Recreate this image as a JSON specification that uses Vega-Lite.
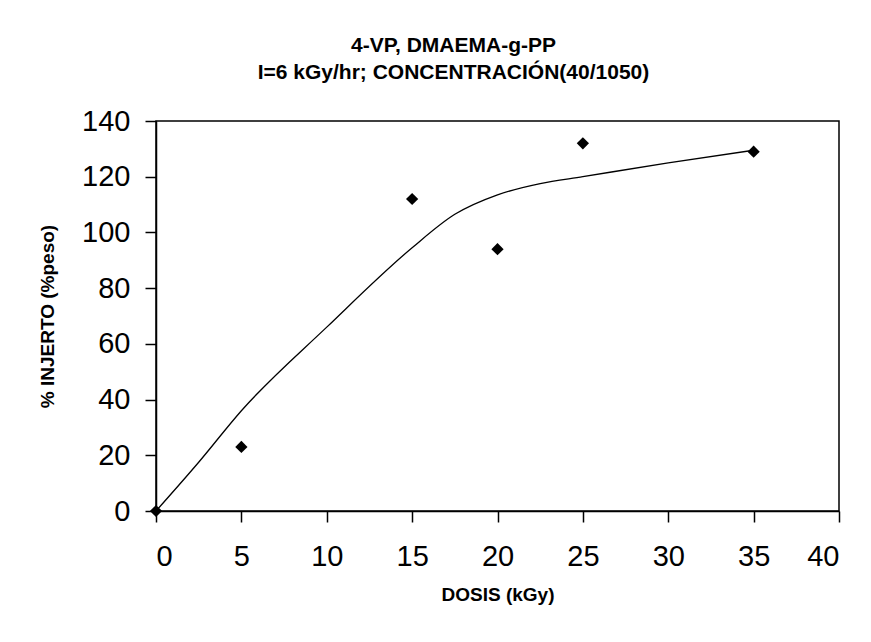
{
  "$schema": "https://vega.github.io/schema/vega-lite/v6.json",
  "width": 683,
  "height": 390,
  "autosize": "none",
  "padding": {"left": 156, "top": 121, "right": 32, "bottom": 131},
  "background": "white",
  "title": {
    "text": ["4-VP, DMAEMA-g-PP", "I=6 kGy/hr; CONCENTRACIÓN(40/1050)"],
    "font": "Liberation Sans",
    "fontSize": 21,
    "fontWeight": "bold",
    "lineHeight": 27,
    "color": "black",
    "anchor": "middle",
    "dx": -44,
    "offset": 24
  },
  "datasets": {
    "points": [
      {"dosis": 0, "injerto": 0},
      {"dosis": 5, "injerto": 23},
      {"dosis": 15, "injerto": 112},
      {"dosis": 20, "injerto": 94},
      {"dosis": 25, "injerto": 132},
      {"dosis": 35, "injerto": 129}
    ],
    "curve": [
      {"dosis": 0, "injerto": 0},
      {"dosis": 2.5, "injerto": 17.5},
      {"dosis": 5, "injerto": 36},
      {"dosis": 10, "injerto": 66},
      {"dosis": 15, "injerto": 94.5},
      {"dosis": 17.5, "injerto": 106.5},
      {"dosis": 20, "injerto": 113.5},
      {"dosis": 22.5, "injerto": 117.5},
      {"dosis": 25, "injerto": 120},
      {"dosis": 30, "injerto": 125},
      {"dosis": 35, "injerto": 129.5}
    ]
  },
  "config": {
    "view": {"stroke": "black", "strokeWidth": 1.5},
    "axis": {
      "grid": false,
      "domainColor": "black",
      "domainWidth": 1.5,
      "tickColor": "black",
      "tickWidth": 1.5,
      "tickSize": 11,
      "labelFont": "Liberation Sans",
      "labelFontSize": 29,
      "labelColor": "black",
      "titleFont": "Liberation Sans",
      "titleFontSize": 19,
      "titleFontWeight": "bold",
      "titleColor": "black"
    }
  },
  "layer": [
    {
      "data": {"name": "curve"},
      "mark": {"type": "line", "interpolate": "monotone", "color": "black", "strokeWidth": 1.3},
      "encoding": {
        "x": {"field": "dosis", "type": "quantitative"},
        "y": {"field": "injerto", "type": "quantitative"}
      }
    },
    {
      "data": {"name": "points"},
      "mark": {"type": "point", "shape": "diamond", "filled": true, "color": "black", "size": 150, "opacity": 1},
      "encoding": {
        "x": {
          "field": "dosis", "type": "quantitative",
          "scale": {"domain": [0, 40], "nice": false},
          "axis": {"values": [0, 5, 10, 15, 20, 25, 30, 35, 40], "title": "DOSIS (kGy)", "labelPadding": 20, "titlePadding": 14}
        },
        "y": {
          "field": "injerto", "type": "quantitative",
          "scale": {"domain": [0, 140], "nice": false},
          "axis": {"values": [0, 20, 40, 60, 80, 100, 120, 140], "title": "% INJERTO (%peso)", "labelPadding": 15, "titlePadding": 24}
        }
      }
    }
  ]
}
